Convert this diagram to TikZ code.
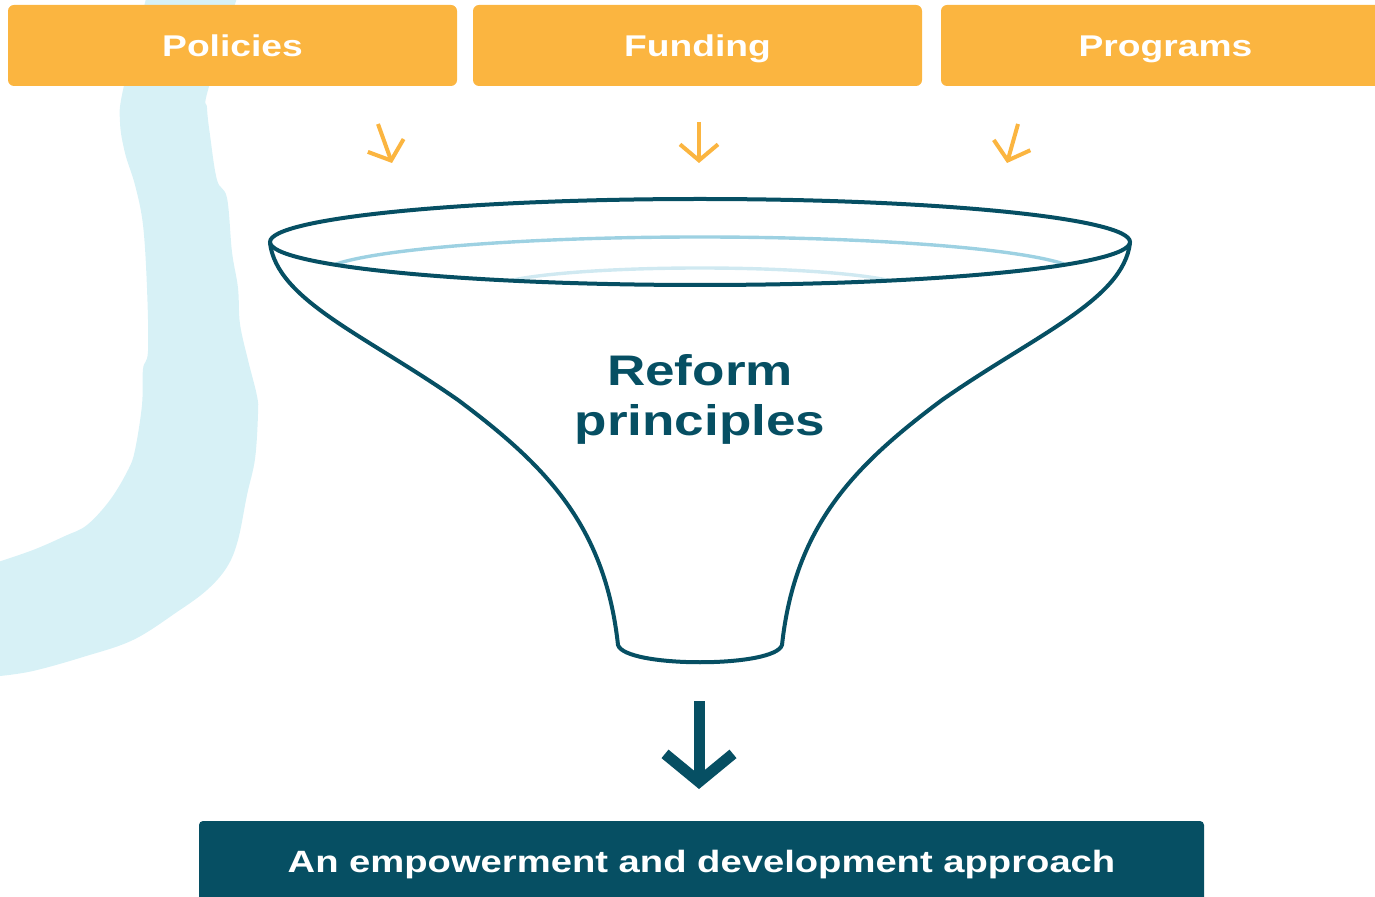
\documentclass[tikz,border=0pt]{standalone}
\usepackage{fontspec}
\newfontfamily\widesans[FakeStretch=1.24]{Liberation Sans}
\usepackage{tikz}
\usetikzlibrary{arrows.meta}
\definecolor{boxorange}{RGB}{251,181,64}
\definecolor{deepteal}{RGB}{6,79,99}
\definecolor{rimblue}{RGB}{157,209,226}
\definecolor{paleblue}{RGB}{208,233,241}
\definecolor{riverblue}{RGB}{215,241,246}

\begin{document}
\begin{tikzpicture}[x=0.5pt,y=-0.5pt,
  topbox/.style={fill=boxorange,rounded corners=3pt,inner sep=0pt,
    minimum width=224.5pt,minimum height=40.5pt,text=white,
    text height=10.7pt,text depth=0pt,
    font=\widesans\bfseries\fontsize{15}{18}\selectfont},
  endbox/.style={fill=deepteal,rounded corners=2pt,inner sep=0pt,
    minimum width=502.5pt,minimum height=40pt,text=white,
    text height=11pt,text depth=0pt,
    font=\widesans\bfseries\fontsize{15.4}{18}\selectfont},
  funnel/.style={draw=deepteal,line width=2pt},
  feed/.style={draw=boxorange,line width=2pt,-{Straight Barb[length=8pt,width=19pt]}},
  outflow/.style={draw=deepteal,line width=5.5pt,line join=miter,-{Straight Barb[length=14pt,width=34pt]}}]
\clip (0,0) rectangle (1375,897);

% river in the background
\fill[riverblue] plot[smooth,tension=0.6] coordinates{(147,-5) (123,90) (120,122) (125,153) (135,185) (143,225) (147,288) (148,351) (143,369) (142,405) (135,450) (128,470) (110,500) (87,525) (65,536) (33,550) (-5,563)}
  -- (-5,677) -- plot[smooth,tension=0.6] coordinates{(0,676) (33,671) (83,657) (133,640) (177,612) (207,590) (227,567) (238,540) (247,495) (255,459) (258,414) (257,396) (248,360) (240,324) (238,288) (232,252) (227,198) (217,180) (210,135) (207,108) (208,90) (238,-5)} -- cycle;

\node[topbox] (policies) at (232.5,45.5) {Policies};
\node[topbox] (funding) at (697.5,45.5) {Funding};
\node[topbox] (programs) at (1165.5,45.5) {Programs};

\coordinate (pol-a) at (378,124);
\coordinate (pol-b) at (392,163);
\coordinate (fun-a) at (699,122);
\coordinate (fun-b) at (699,163);
\coordinate (pro-a) at (1018,124);
\coordinate (pro-b) at (1007,163);
\draw[feed] (pol-a) -- (pol-b);
\draw[feed] (fun-a) -- (fun-b);
\draw[feed] (pro-a) -- (pro-b);

% funnel
\begin{scope}
\clip (700,242) ellipse[x radius=430,y radius=43];
\draw[rimblue,line width=1.7pt] (700,275) ellipse[x radius=380,y radius=38];
\draw[paleblue,line width=1.7pt] (700,290) ellipse[x radius=210,y radius=22];
\end{scope}
\draw[funnel] (700,242) ellipse[x radius=430,y radius=43];
\draw[funnel] (270,243) .. controls (277,300) and (365,335) .. (458,400)
  .. controls (545,465) and (605,525) .. (618,645)
  .. controls (625,668) and (775,668) .. (782,645)
  .. controls (795,525) and (855,465) .. (942,400)
  .. controls (1035,335) and (1123,300) .. (1130,243);
\node[text=deepteal,align=center,font=\widesans\bfseries\fontsize{21.4}{25}\selectfont] (reform) at (700,399) {Reform\\principles};

\coordinate (out-a) at (699,701);
\coordinate (out-b) at (699,789);
\draw[outflow] (out-a) -- (out-b);

\node[endbox] (approach) at (701.5,861) {An empowerment and development approach};
\end{tikzpicture}
\end{document}
